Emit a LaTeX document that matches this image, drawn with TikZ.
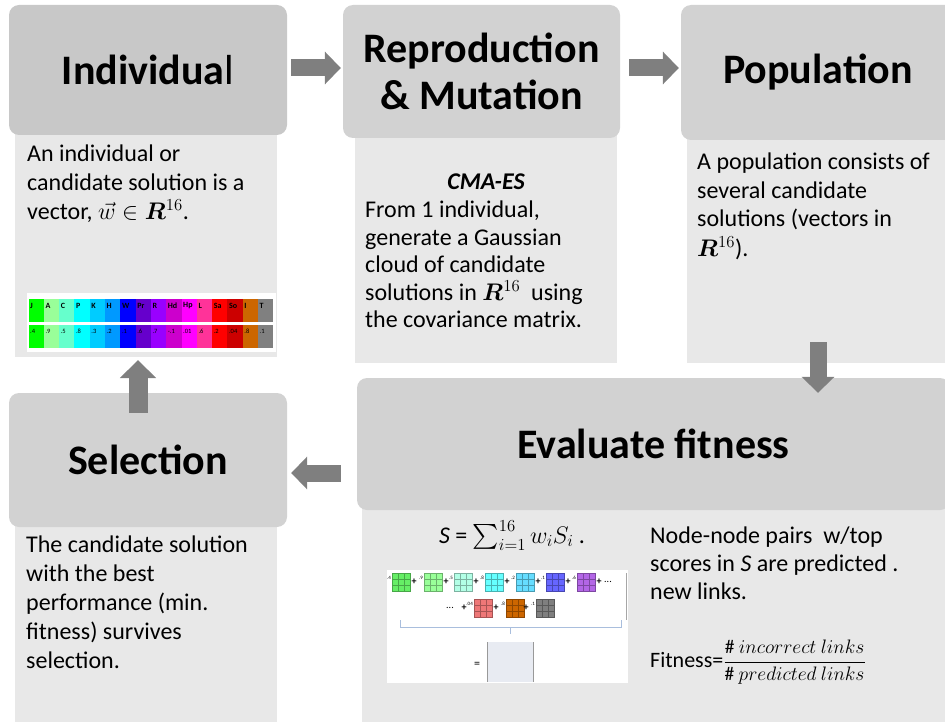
\RequirePackage{fix-cm}
\documentclass[tikz,border=0pt]{standalone}
\usepackage{amsmath}
\usepackage{bm}
\usepackage{fontspec}
\setmainfont{Carlito}
\usetikzlibrary{arrows.meta}
\definecolor{hdrdark}{HTML}{C8C8C8}
\definecolor{hdrgray}{HTML}{D2D2D2}
\definecolor{panelgray}{HTML}{E8E8E8}
\definecolor{arrowgray}{HTML}{7F7F7F}
\definecolor{bracecol}{HTML}{A9BEDD}
\definecolor{resultfill}{HTML}{E8EBF2}
\definecolor{c1}{HTML}{00FF00}
\definecolor{c2}{HTML}{99FF99}
\definecolor{c3}{HTML}{66FFCC}
\definecolor{c4}{HTML}{00FFFF}
\definecolor{c5}{HTML}{00CCFF}
\definecolor{c6}{HTML}{0099FF}
\definecolor{c7}{HTML}{0000FF}
\definecolor{c8}{HTML}{6600CC}
\definecolor{c9}{HTML}{9900FF}
\definecolor{c10}{HTML}{CC00CC}
\definecolor{c11}{HTML}{FF00FF}
\definecolor{c12}{HTML}{FF3399}
\definecolor{c13}{HTML}{FF0000}
\definecolor{c14}{HTML}{CC0000}
\definecolor{c15}{HTML}{CC6600}
\definecolor{c16}{HTML}{808080}
\definecolor{sq1}{HTML}{66EE66}
\definecolor{sq2}{HTML}{99FF99}
\definecolor{sq3}{HTML}{B3FFE6}
\definecolor{sq4}{HTML}{66FFFF}
\definecolor{sq5}{HTML}{66DDFF}
\definecolor{sq6}{HTML}{6666FF}
\definecolor{sq7}{HTML}{B366E6}
\definecolor{sq8}{HTML}{EE7777}
\definecolor{sq9}{HTML}{CC6600}
\definecolor{sq10}{HTML}{7F7F7F}

\begin{document}
\begin{tikzpicture}[x=1pt, y=-1pt,
    hdr/.style={fill=hdrgray, rounded corners=10pt, inner sep=0pt, align=center,
        font=\fontsize{42}{47}\selectfont\bfseries},
    panel/.style={fill=panelgray, inner sep=0pt, outer sep=0pt, anchor=north west},
    body/.style={anchor=base west, inner sep=0pt, align=left, font=\fontsize{24}{29}\selectfont},
    celllab/.style={anchor=west, inner sep=0pt, font=\fontsize{8}{9}\selectfont\bfseries},
    cellval/.style={anchor=west, inner sep=0pt, font=\fontsize{6.5}{8}\selectfont},
    coef/.style={anchor=east, inner sep=0pt, font=\fontsize{5}{6}\selectfont},
    plus/.style={inner sep=0pt, font=\fontsize{10}{12}\selectfont\bfseries},
    blockarrow/.style={draw=arrowgray, line width=17pt, -{Triangle[width=32pt,length=16pt]}}]
    \useasboundingbox (0,0) rectangle (945,722);

    \node[panel, minimum width=262pt, minimum height=227pt] (indbody) at (15,130) {};
    \node[panel, minimum width=262pt, minimum height=229pt] (reprobody) at (355,134) {};
    \node[panel, minimum width=262pt, minimum height=228pt] (popbody) at (687,135) {};
    \node[panel, minimum width=600pt, minimum height=225pt] (evalbody) at (362,505) {};
    \node[panel, minimum width=262pt, minimum height=208pt] (selbody) at (15,522) {};

    \node[hdr, fill=hdrdark, minimum width=278pt, minimum height=130pt] (ind) at (148,70) {Individua{\mdseries l}};
    \node[hdr, minimum width=277pt, minimum height=133pt] (repro) at (481.5,71.5) {Reproduction\\\& Mutation};
    \node[hdr, minimum width=274pt, minimum height=135pt] (pop) at (818,72.5) {Population};
    \node[hdr, minimum width=593pt, minimum height=132pt] (eval) at (653.5,444) {Evaluate fitness};
    \node[hdr, minimum width=278pt, minimum height=134pt] (sel) at (148,460) {Selection};

    % base of a multi-line node is its last line
    \node[body] (indtxt) at (27,219.5) {An individual or\\candidate solution is a\\vector, $\vec{w}\in\bm{R}^{16}$.};
    \fill[white] (27,293) rectangle (276,352);
    \foreach \lab/\val [count=\i] in {J/.4, A/.9, C/.5, P/.8, K/.3, H/.2, W/.1, Pr/.6,
            R/.7, Hd/-.1, Hp/.01, L/.6, Sa/.2, So/.04, I/.8, T/.1} {
        \fill[c\i] ({28.5+(\i-1)*15.3},299) rectangle ++(15.3,23);
        \fill[c\i] ({28.5+(\i-1)*15.3},324.5) rectangle ++(15.3,23);
        \node[celllab] (lab\i) at ({30+(\i-1)*15.3},306) {\lab};
        \node[cellval] (val\i) at ({30+(\i-1)*15.3},331) {\val};
    }

    \node[body, anchor=base] (cma) at (486,190) {\bfseries\itshape CMA-ES};
    \node[body, font=\fontsize{24}{27.5}\selectfont] (reprotxt) at (365,327.5)
        {From 1 individual,\\generate a Gaussian\\cloud of candidate\\solutions in $\bm{R}^{16}$\ \ using\\the covariance matrix.};

    \node[body] (poptxt) at (697,256) {A population consists of\\several candidate\\solutions (vectors in\\$\bm{R}^{16}$).};

    \node[body] (seltxt) at (26,668) {The candidate solution\\with the best\\performance (min.\\fitness) survives\\selection.};

    \node[body, anchor=base] (eq) at (512,543) {\textit{S} = $\sum_{i=1}^{16} w_iS_i$ .};
    \node[body, font=\fontsize{24}{28}\selectfont] (evaltxt) at (650,599)
        {Node-node pairs\ \ w/top\\scores in \textit{S} are predicted .\\new links.};
    \node[anchor=base west, inner sep=0pt] (fit) at (650,667)
        {\fontsize{22}{26}\selectfont Fitness=\fontsize{19.5}{23}\selectfont$\dfrac{\#\ incorrect\ links}{\#\ predicted\ links}$};

    \fill[white] (387,570) rectangle (628,683);
    \foreach \x/\co/\col in {392/.4/sq1, 424/.9/sq2, 454/.5/sq3, 485/.8/sq4, 516/.2/sq5, 546/.1/sq6, 577/.6/sq7} {
        \fill[\col] (\x,573) rectangle ++(18,18);
        \draw[\col!70!black, line width=0.3pt] (\x,573) rectangle ++(18,18)
            ({\x+6},573) -- ++(0,18) ({\x+12},573) -- ++(0,18) (\x,579) -- ++(18,0) (\x,585) -- ++(18,0);
        \node[coef] at ({\x-1},578) {\co};
        \node[plus] at ({\x+22},582) {+};
    }
    \node[plus, font=\fontsize{10}{12}\selectfont] (dotsA) at (608,582) {...};
    \node[plus, font=\fontsize{10}{12}\selectfont] (dotsB) at (450,608) {...};
    \foreach \x/\co/\col in {474/.04/sq8, 506/.8/sq9, 536/.1/sq10} {
        \fill[\col] (\x,599) rectangle ++(18,18);
        \draw[\col!70!black, line width=0.3pt] (\x,599) rectangle ++(18,18)
            ({\x+6},599) -- ++(0,18) ({\x+12},599) -- ++(0,18) (\x,605) -- ++(18,0) (\x,611) -- ++(18,0);
        \node[coef] at ({\x-1},604) {\co};
        \node[plus] at ({\x-10},608) {+};
    }
    \draw[bracecol, line width=0.8pt] (400,620) -- (400,627) -- (621,627) -- (621,620) (510,627) -- (510,634);
    \draw[gray!70, line width=0.8pt] (626,573) -- (626,620);
    \node[inner sep=0pt, font=\fontsize{12}{14}\selectfont] (eqsign) at (477,665) {=};
    \fill[resultfill] (487,642) rectangle (533,682);
    \draw[gray!80, line width=0.6pt] (487,642) -- (487,682) (533,642) -- (533,682);

    \draw[blockarrow] ([xshift=4pt,yshift=2pt]ind.east) -- ([xshift=-2pt,yshift=2pt]ind.east -| repro.west);
    \draw[blockarrow] ([xshift=9pt,yshift=2pt]ind.east -| repro.east) -- ([xshift=-2pt,yshift=2pt]ind.east -| pop.west);
    \draw[blockarrow] ([yshift=21pt]popbody.south) -- ([yshift=-15pt]popbody.south |- eval.north);
    \draw[blockarrow] ([xshift=-16pt,yshift=-29pt]eval.west) -- ([xshift=4pt,yshift=-29pt]eval.west -| sel.east);
    \draw[blockarrow, line width=19pt, -{Triangle[width=35pt,length=18pt]}] ([xshift=-10pt,yshift=-20pt]sel.north) -- ([xshift=-8pt,yshift=-3pt]indbody.south);
\end{tikzpicture}
\end{document}
